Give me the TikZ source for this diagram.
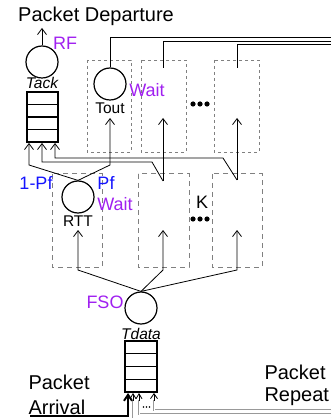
\documentclass[tikz,border=0pt]{standalone}
\usepackage{fontspec}
\setmainfont{Liberation Sans}
\usetikzlibrary{arrows.meta}
\definecolor{wpurple}{RGB}{160,32,240}
\definecolor{wblue}{RGB}{20,20,255}
\begin{document}
\begin{tikzpicture}[x=1pt,y=-1pt,
  srv/.style={circle,draw,line width=1.2pt,minimum size=32pt,inner sep=0pt},
  queue/.style={draw,line width=1.4pt,minimum width=31pt,minimum height=50pt,inner sep=0pt},
  conn/.style={line width=0.8pt},
  arr/.style={conn,-{Straight Barb[length=6pt,width=9pt]}},
  boxa/.style={draw=gray,dash pattern=on 3pt off 3pt,line width=0.6pt},
  boxb/.style={draw=gray,dash pattern=on 5pt off 4pt,line width=1pt},
  big/.style={font=\fontsize{20}{24}\selectfont},
  mid/.style={font=\fontsize{18}{21}\selectfont},
  sml/.style={font=\fontsize{15.5}{18}\selectfont},
  ital/.style={font=\fontsize{15.5}{18}\selectfont\itshape},
  rep/.style={draw=gray!80,double=white,double distance=0.8pt,line width=0.5pt},
  dotmark/.style={fill=black}]
\useasboundingbox (0,0) rectangle (331,419);

% dashed boxes, top row
\draw[boxa] (87,60) rectangle (131,152);
\draw[boxa] (141,60) rectangle (186,152);
\draw[boxa] (214,60) rectangle (259,152);
% dashed boxes, middle row
\draw[boxb] (52,174) rectangle (102,267);
\draw[boxb] (138,174) rectangle (189,267);
\draw[boxb] (212,174) rectangle (262,267);

% servers
\node[srv] (tack) at (42,62) {};
\node[srv] (tout) at (110,84) {};
\node[srv] (rtt) at (78,197) {};
\node[srv] (fso) at (141,308) {};

% queues
\node[queue] (tackq) at (42.5,117) {};
\foreach \yy in {104.5,117,129.5} \draw[line width=1.4pt] (27,\yy) -- (58,\yy);
\node[queue,minimum width=32pt,minimum height=51pt] (tdataq) at (141,366.5) {};
\foreach \yy in {353.75,366.5,379.25} \draw[line width=1.4pt] (125,\yy) -- (157,\yy);

% labels
\node[big] (dep) at (96,16) {Packet Departure};
\node[mid,text=wpurple] (rf) at (65,43) {RF};
\node[ital] (tackl) at (42,83) {Tack};
\node[sml] (toutl) at (110,108) {Tout};
\node[mid,text=wpurple] (wait1) at (147,90) {Wait};
\node[mid,text=wblue] (onepf) at (36,183) {1-Pf};
\node[mid,text=wblue] (pf) at (106,183) {Pf};
\node[mid,text=wpurple] (wait2) at (115,204) {Wait};
\node[sml] (rttl) at (78,221) {RTT};
\node[mid] (kl) at (202,202) {K};
\node[mid,text=wpurple] (fsol) at (105,302) {FSO};
\node[ital] (tdatal) at (141,334) {Tdata};
\node[big,anchor=west] (pa1) at (25,382) {Packet};
\node[big,anchor=west] (pa2) at (25,407) {Arrival};
\node[big,anchor=west] (pr1) at (261,372) {Packet};
\node[big,anchor=west] (pr2) at (261,397) {Repeat};

% dots
\foreach \xx in {193,200,207} \fill[dotmark] (\xx,104) circle (2.6);
\foreach \xx in {193,200,207} \fill[dotmark] (\xx,219) circle (2.6);
\foreach \xx in {143.5,146.5,149.5} \fill[dotmark] (\xx,407) circle (0.9);

% coordinates
\coordinate (depTip) at (42,28);
\coordinate (ta1) at (29,143);
\coordinate (ta2) at (42,143);
\coordinate (ta3) at (55,143);
\coordinate (toutTip) at (110,118);
\coordinate (bTip) at (163,118);
\coordinate (cTip) at (237,118);
\coordinate (eTop) at (163,181);
\coordinate (fTop) at (237,180);
\coordinate (dTip) at (78,230);
\coordinate (eTip) at (163,230);
\coordinate (fTip) at (237,230);
\coordinate (dBot) at (78,270);
\coordinate (eBot) at (163,270);
\coordinate (fBot) at (237,270);
\coordinate (bOut) at (163,68);
\coordinate (cOut) at (237,68);
\coordinate (r1) at (331,37);
\coordinate (r2) at (331,41);
\coordinate (r3) at (331,44);

% departure
\draw[arr] (tack.north) -- (depTip);

% RTT outputs
\draw[arr] (rtt.north) -- (29,165) -- (ta1);
\draw[arr] (rtt.north) -- (110,165) -- (toutTip);

% middle box outputs
\draw[arr] (eTop) -- (bTip);
\draw[arr] (eTop) -- (152,162) -- (42,162) -- (ta2);
\draw[arr] (fTop) -- (cTip);
\draw[arr] (fTop) -- (223,158) -- (55,158) -- (ta3);

% FSO outputs
\draw[arr] (fso.north) -- (dBot) -- (dTip);
\draw[arr] (fso.north) -- (eBot) -- (eTip);
\draw[arr] (fso.north) -- (fBot) -- (fTip);

% timeout / repeat outputs (top)
\draw[conn] (tout.north) |- (r1);
\draw[conn] (bOut) |- (r2);
\draw[conn] (cOut) |- (r3);

% repeat inputs (bottom)
\coordinate (q1) at (133,393);
\coordinate (q2) at (139,393);
\coordinate (q3) at (154,393);
\draw[rep] (331,417.5) -| (133,400);
\draw[rep] (331,414) -| (139,400);
\draw[rep] (331,410) -| (154,400);
\draw[conn,-{Straight Barb[length=5pt,width=6pt]}] (133,401) -- (q1);
\draw[conn,-{Straight Barb[length=5pt,width=6pt]}] (139,401) -- (q2);
\draw[conn,-{Straight Barb[length=5pt,width=7pt]}] (154,401) -- (q3);

% arrival
\draw[line width=2pt,-{Straight Barb[length=6pt,width=8pt]}] (30,416) -| (128,393);
\end{tikzpicture}
\end{document}
